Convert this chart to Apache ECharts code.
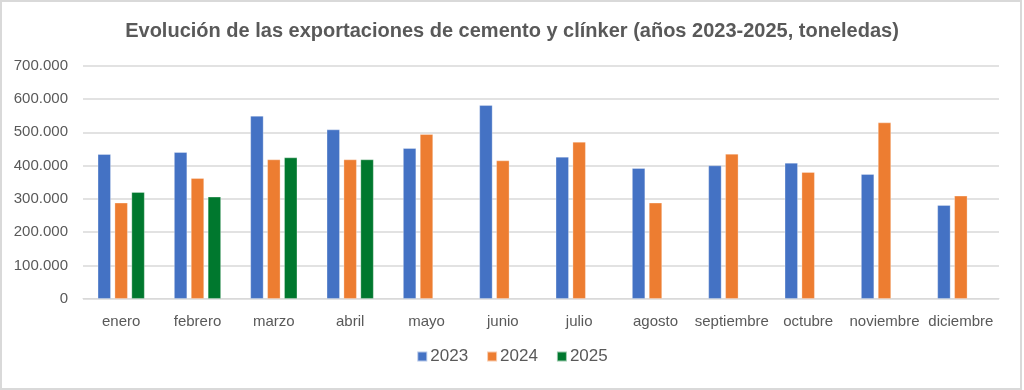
<!DOCTYPE html>
<html><head><meta charset="utf-8">
<script src="https://cdn.jsdelivr.net/npm/echarts@6/dist/echarts.min.js"></script>
<style>html,body{margin:0;padding:0;background:#fff}#c{width:1024px;height:390px}</style>
</head><body><div id="c"></div>
<script>
const titleText = 'Evolución de las exportaciones de cemento y clínker (años 2023-2025, toneledas)';
const months = ['enero','febrero','marzo','abril','mayo','junio','julio','agosto','septiembre','octubre','noviembre','diciembre'];
const s2023 = [434000,440000,549000,508000,452000,581000,426000,392000,400000,408000,374000,281000];
const s2024 = [288000,362000,418000,418000,494000,415000,471000,288000,435000,380000,529000,309000];
const s2025 = [320000,306000,424000,418000,null,null,null,null,null,null,null,null];
const yTicks = [0,100000,200000,300000,400000,500000,600000,700000];

const fmt = v => v === 0 ? '0' : String(v).replace(/\B(?=(\d{3})+(?!\d))/g, '.');
const chart = echarts.init(document.getElementById('c'), null, {renderer:'canvas'});
const font = 'Liberation Sans, Arial, sans-serif';
const mk = (name, data, color) => ({
  name, type:'bar', data, barWidth:13, barGap:'30%',
  itemStyle:{color, borderColor:'rgba(255,255,255,0.6)', borderWidth:0.5},
  animation:false
});
chart.setOption({
  animation:false,
  graphic:[{type:'rect', shape:{x:1,y:1,width:1020,height:388}, style:{fill:'none', stroke:'#d9d9d9', lineWidth:2}, silent:true, z:-1}],
  title:{text:titleText, left:'center', top:16, textStyle:{fontFamily:font, fontSize:20, fontWeight:'bold', color:'#595959'}},
  legend:{data:['2023','2024','2025'], bottom:20, left:'center', itemWidth:10, itemHeight:10, itemGap:18, icon:'rect',
    textStyle:{fontFamily:font, fontSize:17, color:'#595959', padding:[0,0,0,-2]}},
  grid:{left:83, right:25, top:65.7, bottom:91.3},
  xAxis:{type:'category', data:months,
    axisLine:{lineStyle:{color:'#d9d9d9', width:1}}, axisTick:{show:false},
    axisLabel:{fontFamily:font, fontSize:15, color:'#595959', margin:16, interval:0}},
  yAxis:{type:'value', min:yTicks[0], max:yTicks[yTicks.length-1], interval:100000,
    axisLine:{show:false}, axisTick:{show:false},
    splitLine:{lineStyle:{color:'#d9d9d9', width:1.5}},
    axisLabel:{fontFamily:font, fontSize:15, color:'#595959', margin:15, formatter:fmt}},
  series:[mk('2023', s2023, '#4472C4'), mk('2024', s2024, '#ED7D31'), mk('2025', s2025, '#00782E')]
});
</script></body></html>
